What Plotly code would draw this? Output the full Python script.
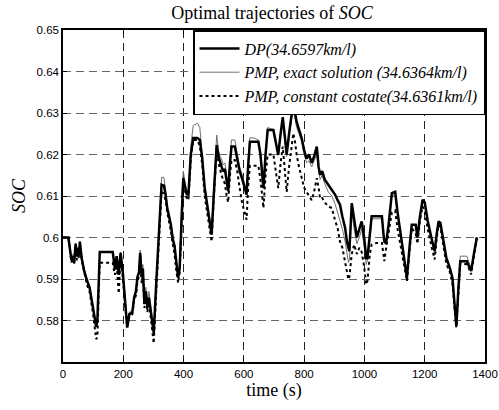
import plotly.graph_objects as go

# time (s)
time_s = [0, 18, 28, 33, 37, 42, 46, 50, 53, 56, 62, 70, 80, 88, 95, 100, 105, 110, 114,
          122, 140, 165, 172, 178, 185, 191, 198, 206, 213, 220, 230, 236, 242, 247, 252,
          256, 261, 265, 270, 275, 280, 285, 291, 296, 301, 310, 320, 327, 335, 340, 346,
          352, 358, 364, 370, 376, 382, 387, 394, 399, 404, 410, 416, 424, 432, 446, 454,
          462, 470, 478, 486, 493, 500, 510, 516, 521, 526, 531, 537, 543, 548, 554, 559,
          570, 578, 586, 595, 603, 609, 614, 620, 634, 648, 655, 660, 665, 672, 679, 698,
          706, 714, 722, 729, 735, 742, 750, 758, 764, 770, 775, 783, 792, 800, 808, 816,
          825, 833, 842, 848, 853, 860, 868, 880, 892, 903, 911, 919, 927, 936, 942, 947,
          950, 958, 966, 975, 983, 991, 999, 1006, 1010, 1018, 1024, 1040, 1058, 1063,
          1066, 1072, 1080, 1091, 1102, 1110, 1120, 1130, 1141, 1150, 1157, 1170, 1176,
          1184, 1193, 1200, 1210, 1222, 1233, 1240, 1246, 1252, 1262, 1272, 1282, 1292,
          1300, 1305, 1312, 1318, 1340, 1347, 1354, 1363, 1373]

soc_dp = [0.600, 0.600, 0.5945, 0.5955, 0.5940, 0.5985, 0.5955, 0.5975, 0.5960, 0.5990,
          0.5950, 0.5920, 0.5895, 0.5880, 0.5850, 0.5830, 0.5800, 0.5785, 0.5800,
          0.5965, 0.5965, 0.5965, 0.5925, 0.5955, 0.5910, 0.5963, 0.5920, 0.5850, 0.5783,
          0.5815, 0.5820, 0.5855, 0.5870, 0.5905, 0.5915, 0.5963, 0.5905, 0.5925, 0.5840,
          0.5870, 0.5830, 0.5855, 0.5820, 0.5790, 0.5770, 0.5900, 0.6030, 0.6127, 0.6125,
          0.6105, 0.6070, 0.6050, 0.6030, 0.5995, 0.5980, 0.5940, 0.5903, 0.5925, 0.6080,
          0.6143, 0.6125, 0.6105, 0.6103, 0.6200, 0.6240, 0.6240, 0.6235, 0.6190, 0.6120,
          0.6080, 0.6040, 0.6007, 0.6100, 0.6223, 0.6195, 0.6183, 0.6170, 0.6159, 0.6165,
          0.6130, 0.6111, 0.6180, 0.6219, 0.6219, 0.6190, 0.6160, 0.6140, 0.6120, 0.6103,
          0.6170, 0.6231, 0.6231, 0.6231, 0.6200, 0.6150, 0.6119, 0.6200, 0.6259, 0.6259,
          0.6230, 0.6199, 0.6250, 0.6290, 0.6250, 0.6200, 0.6250, 0.6300, 0.6327, 0.6300,
          0.6279, 0.6260, 0.6239, 0.6210, 0.6190, 0.6200, 0.6180, 0.6195, 0.6219, 0.6170,
          0.6151, 0.6160, 0.6140, 0.6127, 0.6115, 0.6103, 0.6090, 0.6079, 0.6050, 0.6023,
          0.5990, 0.5975, 0.5967, 0.6083, 0.6040, 0.6000, 0.6020, 0.6039, 0.6000, 0.5950,
          0.5950, 0.6000, 0.6051, 0.6051, 0.6051, 0.6010, 0.5990, 0.5987, 0.6030, 0.6107,
          0.6110, 0.6060, 0.6010, 0.5960, 0.5903, 0.5980, 0.6031, 0.6031, 0.6000, 0.6050,
          0.6091, 0.6085, 0.6040, 0.6000, 0.5967, 0.6010, 0.6039, 0.6035, 0.5990, 0.5950,
          0.5930, 0.5903, 0.5830, 0.5787, 0.5880, 0.5943, 0.5943, 0.5930, 0.5919, 0.5960,
          0.6000]

soc_pmp_exact = [0.600, 0.600, 0.5950, 0.5960, 0.5945, 0.5985, 0.5960, 0.5975, 0.5962, 0.5990,
                 0.5955, 0.5925, 0.5900, 0.5885, 0.5855, 0.5835, 0.5805, 0.5790, 0.5800,
                 0.5965, 0.5965, 0.5965, 0.5930, 0.5955, 0.5915, 0.5965, 0.5925, 0.5855, 0.5790,
                 0.5820, 0.5825, 0.5860, 0.5875, 0.5910, 0.5920, 0.5970, 0.5910, 0.5935, 0.5845,
                 0.5880, 0.5840, 0.5870, 0.5830, 0.5800, 0.5778, 0.5905, 0.6035, 0.6145, 0.6145,
                 0.6110, 0.6075, 0.6060, 0.6035, 0.6000, 0.5985, 0.5945, 0.5910, 0.5930, 0.6100,
                 0.6160, 0.6135, 0.6110, 0.6115, 0.6220, 0.6270, 0.6275, 0.6265, 0.6200, 0.6125,
                 0.6085, 0.6045, 0.6015, 0.6120, 0.6247, 0.6210, 0.6195, 0.6190, 0.6175, 0.6180,
                 0.6140, 0.6120, 0.6190, 0.6235, 0.6235, 0.6200, 0.6170, 0.6150, 0.6125, 0.6110,
                 0.6185, 0.6240, 0.6240, 0.6235, 0.6205, 0.6160, 0.6125, 0.6210, 0.6265, 0.6260,
                 0.6235, 0.6200, 0.6255, 0.6280, 0.6245, 0.6195, 0.6245, 0.6290, 0.6310, 0.6285,
                 0.6265, 0.6250, 0.6230, 0.6200, 0.6180, 0.6185, 0.6170, 0.6185, 0.6200, 0.6160,
                 0.6140, 0.6150, 0.6130, 0.6110, 0.6100, 0.6080, 0.6060, 0.6045, 0.6020, 0.5990,
                 0.5960, 0.5940, 0.5945, 0.6060, 0.6020, 0.5985, 0.6000, 0.6020, 0.5980, 0.5935,
                 0.5945, 0.5990, 0.6045, 0.6045, 0.6045, 0.6005, 0.5985, 0.5985, 0.6025, 0.6100,
                 0.6105, 0.6055, 0.6005, 0.5955, 0.5900, 0.5975, 0.6030, 0.6030, 0.6000, 0.6050,
                 0.6090, 0.6085, 0.6040, 0.6000, 0.5967, 0.6010, 0.6040, 0.6035, 0.5990, 0.5950,
                 0.5930, 0.5900, 0.5830, 0.5790, 0.5885, 0.5955, 0.5955, 0.5940, 0.5925, 0.5960,
                 0.6000]

soc_pmp_const = [0.600, 0.600, 0.5940, 0.5950, 0.5935, 0.5980, 0.5945, 0.5970, 0.5950, 0.5985,
                 0.5945, 0.5915, 0.5885, 0.5870, 0.5840, 0.5815, 0.5785, 0.5755, 0.5760,
                 0.5939, 0.5939, 0.5939, 0.5910, 0.5935, 0.5865, 0.5955, 0.5905, 0.5835, 0.5785,
                 0.5810, 0.5815, 0.5850, 0.5860, 0.5895, 0.5905, 0.5955, 0.5890, 0.5915, 0.5830,
                 0.5860, 0.5820, 0.5845, 0.5805, 0.5770, 0.5745, 0.5880, 0.6010, 0.6110, 0.6105,
                 0.6090, 0.6060, 0.6040, 0.6015, 0.5985, 0.5960, 0.5920, 0.5890, 0.5915, 0.6070,
                 0.6135, 0.6115, 0.6095, 0.6090, 0.6190, 0.6235, 0.6235, 0.6220, 0.6175, 0.6100,
                 0.6060, 0.6020, 0.5990, 0.6090, 0.6215, 0.6180, 0.6160, 0.6150, 0.6140, 0.6130,
                 0.6100, 0.6085, 0.6150, 0.6187, 0.6187, 0.6160, 0.6120, 0.6080, 0.6060, 0.6043,
                 0.6120, 0.6173, 0.6173, 0.6173, 0.6140, 0.6100, 0.6071, 0.6150, 0.6200, 0.6200,
                 0.6160, 0.6119, 0.6180, 0.6219, 0.6170, 0.6110, 0.6170, 0.6220, 0.6251, 0.6230,
                 0.6200, 0.6170, 0.6140, 0.6120, 0.6110, 0.6100, 0.6090, 0.6110, 0.6143, 0.6120,
                 0.6093, 0.6095, 0.6085, 0.6075, 0.6071, 0.6040, 0.6023, 0.5990, 0.5975, 0.5940,
                 0.5915, 0.5899, 0.5905, 0.5960, 0.5983, 0.5960, 0.5975, 0.5965, 0.5930, 0.5887,
                 0.5895, 0.5960, 0.5983, 0.5987, 0.5987, 0.5960, 0.5943, 0.5975, 0.6010, 0.6060,
                 0.6065, 0.6020, 0.5980, 0.5940, 0.5895, 0.5970, 0.6023, 0.6010, 0.5985, 0.6040,
                 0.6075, 0.6065, 0.6020, 0.5980, 0.5947, 0.6000, 0.6031, 0.6025, 0.5980, 0.5935,
                 0.5920, 0.5890, 0.5820, 0.5783, 0.5870, 0.5939, 0.5935, 0.5925, 0.5911, 0.5955,
                 0.6000]

series_names = ["<i>DP(34.6597km/l)</i>",
                "<i>PMP, exact solution (34.6364km/l)</i>",
                "<i>PMP, constant costate(34.6361km/l)</i>"]

x_ticks = [0, 200, 400, 600, 800, 1000, 1200, 1400]
y_ticks = [0.58, 0.59, 0.60, 0.61, 0.62, 0.63, 0.64, 0.65]
y_tick_labels = ["0.58", "0.59", "0.6", "0.61", "0.62", "0.63", "0.64", "0.65"]

serif = "Liberation Serif, Times New Roman, serif"
sans = "Liberation Sans, Arial, sans-serif"

fig = go.Figure()
fig.add_trace(go.Scatter(x=time_s, y=soc_pmp_exact, mode="lines", name=series_names[1],
                         line=dict(color="#707070", width=1), legendrank=2))
fig.add_trace(go.Scatter(x=time_s, y=soc_dp, mode="lines", name=series_names[0],
                         line=dict(color="black", width=2.5), legendrank=1))
fig.add_trace(go.Scatter(x=time_s, y=soc_pmp_const, mode="lines", name=series_names[2],
                         line=dict(color="black", width=2, dash="dot"), legendrank=3))

axis_common = dict(showline=True, linecolor="black", linewidth=1.5, mirror="allticks",
                   ticks="inside", ticklen=4, tickcolor="black", automargin=False,
                   showgrid=True, griddash="8px,5px", gridwidth=1,
                   zeroline=False, ticklabeloverflow="allow",
                   tickfont=dict(family=sans, size=11.5, color="black"))

fig.update_xaxes(range=[0, 1400], tickvals=x_ticks, gridcolor="#222222",
                 title=dict(text="time (s)", font=dict(family=serif, size=18, color="black"),
                            standoff=4),
                 **axis_common)
fig.update_yaxes(range=[0.57, 0.65], tickvals=y_ticks, ticktext=y_tick_labels,
                 gridcolor="#666666",
                 title=dict(text="<i>SOC</i>", font=dict(family=serif, size=18, color="black"),
                            standoff=6),
                 **axis_common)

fig.update_layout(
    width=499, height=410,
    margin=dict(l=63, r=14, t=30, b=48),
    paper_bgcolor="white", plot_bgcolor="white",
    title=dict(text="Optimal trajectories of <i>SOC</i>", x=0.545, xanchor="center",
               y=0.968, yanchor="middle",
               font=dict(family=serif, size=18, color="black")),
    legend=dict(x=1, y=1, xanchor="right", yanchor="top", bgcolor="white",
                bordercolor="black", borderwidth=1.5, itemwidth=40,
                font=dict(family=serif, size=16, color="black"),
                tracegroupgap=0),
    showlegend=True,
)

# drop the default 8px page margin so the figure fills the window
fig.write_html("out.html", config={"displayModeBar": False},
               post_script="document.body.style.margin = '0';")
